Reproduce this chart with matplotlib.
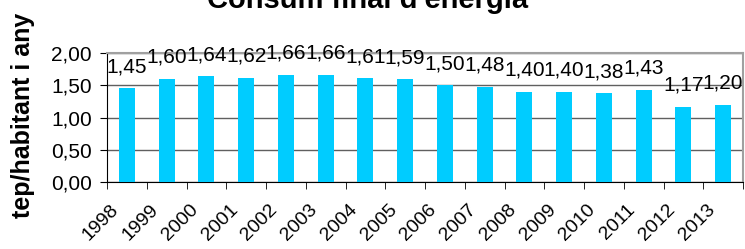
import matplotlib
matplotlib.use('Agg')
from matplotlib import pyplot as plt
from matplotlib.transforms import ScaledTranslation
import numpy as np

years = ['1998', '1999', '2000', '2001', '2002', '2003', '2004', '2005',
         '2006', '2007', '2008', '2009', '2010', '2011', '2012', '2013']
consum = [1.45, 1.60, 1.64, 1.62, 1.66, 1.66, 1.61, 1.59,
          1.50, 1.48, 1.40, 1.40, 1.38, 1.43, 1.17, 1.20]

plt.rcParams['font.family'] = ['Liberation Sans', 'DejaVu Sans']

fig = plt.figure(figsize=(7.45, 2.49), dpi=100)
ax = fig.add_axes([107 / 745, 1 - 182 / 249, (743 - 107) / 745, (182 - 53) / 249])

x = np.arange(len(years))
ax.bar(x, consum, width=0.4, color='#00CCFF', zorder=3)

# value labels, ~16px above each bar
for xi, v in zip(x, consum):
    ax.annotate(f'{v:.2f}'.replace('.', ','), (xi, v), xytext=(0, 11.5),
                textcoords='offset points', ha='center', va='baseline',
                fontsize=15, zorder=4, annotation_clip=False)

ax.set_xlim(-0.5, len(years) - 0.5)
ax.set_ylim(0, 2)
ax.set_yticks([0, 0.5, 1.0, 1.5, 2.0])
ax.set_yticklabels(['0,00', '0,50', '1,00', '1,50', '2,00'], fontsize=15)
ax.yaxis.grid(True, color='#606060', lw=1, zorder=0)

ax.set_xticks(x)
ax.set_xticklabels(years, rotation=45, ha='right', va='center',
                   rotation_mode='anchor', fontsize=14)
ax.tick_params(axis='x', length=0, pad=18)
off = ScaledTranslation(-11 / 100, 0, fig.dpi_scale_trans)
for lbl in ax.get_xticklabels():
    lbl.set_transform(lbl.get_transform() + off)
ax.set_xticks(np.arange(-0.5, len(years), 1), minor=True)
ax.tick_params(axis='x', which='minor', length=5, direction='out', color='black')
ax.tick_params(axis='y', length=5, direction='out', color='black', pad=6)

for s in ['top', 'right']:
    ax.spines[s].set_color('#A0A0A0')
    ax.spines[s].set_linewidth(1.5)
for s in ['left', 'bottom']:
    ax.spines[s].set_color('black')

fig.text(23 / 745, 1 - 115 / 249, 'tep/habitant i any', rotation=90,
         ha='center', va='center', fontsize=18, fontweight='bold')
fig.text(368 / 745, 1 - 8 / 249, "Consum final d'energia", ha='center', va='baseline',
         fontsize=21, fontweight='bold')

fig.savefig('out.png', dpi=100)
plt.close(fig)
